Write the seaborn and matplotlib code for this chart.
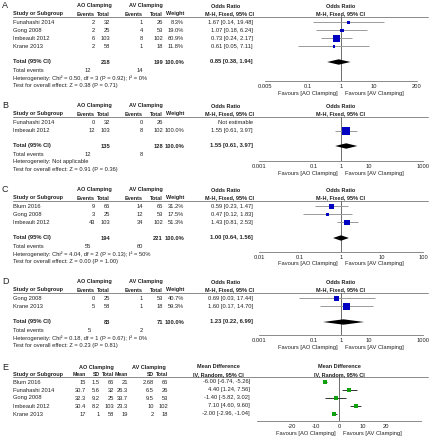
import numpy as np
import pandas as pd
import matplotlib
matplotlib.use("Agg")
import matplotlib.pyplot as plt
import seaborn as sns
from matplotlib.ticker import FixedLocator, FixedFormatter, NullLocator

sns.set_style("white")
plt.rcParams['font.family'] = ['Liberation Sans', 'DejaVu Sans']

# ---------------- data ----------------
# Panel A
studies_A = ["Funahashi 2014", "Gong 2008", "Imbeault 2012", "Krane 2013"]
ao_events_A = [2, 2, 6, 2]
ao_total_A = [32, 25, 103, 58]
av_events_A = [1, 4, 8, 1]
av_total_A = [26, 53, 102, 18]
weight_A = [8.3, 19.0, 60.9, 11.8]
or_A = [1.67, 1.07, 0.73, 0.61]
lo_A = [0.14, 0.18, 0.24, 0.05]
hi_A = [19.48, 6.24, 2.17, 7.11]
pooled_A = [0.85, 0.38, 1.94]
totals_A = [218, 199]
tot_events_A = [12, 14]
het_A = "Heterogeneity: Chi² = 0.50, df = 3 (P = 0.92); I² = 0%"
test_A = "Test for overall effect: Z = 0.38 (P = 0.71)"
ticks_A = [0.005, 0.1, 1, 10, 200]
ticklabels_A = ["0.005", "0.1", "1", "10", "200"]

# Panel B
studies_B = ["Funahashi 2014", "Imbeault 2012"]
ao_events_B = [0, 12]
ao_total_B = [32, 103]
av_events_B = [0, 8]
av_total_B = [26, 102]
weight_B = [np.nan, 100.0]
or_B = [np.nan, 1.55]
lo_B = [np.nan, 0.61]
hi_B = [np.nan, 3.97]
pooled_B = [1.55, 0.61, 3.97]
totals_B = [135, 128]
tot_events_B = [12, 8]
het_B = "Heterogeneity: Not applicable"
test_B = "Test for overall effect: Z = 0.91 (P = 0.36)"
ticks_B = [0.001, 0.1, 1, 10, 1000]
ticklabels_B = ["0.001", "0.1", "1", "10", "1000"]

# Panel C
studies_C = ["Blum 2016", "Gong 2008", "Imbeault 2012"]
ao_events_C = [9, 3, 43]
ao_total_C = [66, 25, 103]
av_events_C = [14, 12, 34]
av_total_C = [66, 53, 102]
weight_C = [31.2, 17.5, 51.3]
or_C = [0.59, 0.47, 1.43]
lo_C = [0.23, 0.12, 0.81]
hi_C = [1.47, 1.83, 2.53]
pooled_C = [1.00, 0.64, 1.56]
totals_C = [194, 221]
tot_events_C = [55, 60]
het_C = "Heterogeneity: Chi² = 4.04, df = 2 (P = 0.13); I² = 50%"
test_C = "Test for overall effect: Z = 0.00 (P = 1.00)"
ticks_C = [0.01, 0.1, 1, 10, 100]
ticklabels_C = ["0.01", "0.1", "1", "10", "100"]

# Panel D
studies_D = ["Gong 2008", "Krane 2013"]
ao_events_D = [0, 5]
ao_total_D = [25, 58]
av_events_D = [1, 1]
av_total_D = [53, 18]
weight_D = [40.7, 59.3]
or_D = [0.69, 1.60]
lo_D = [0.03, 0.17]
hi_D = [17.44, 14.70]
pooled_D = [1.23, 0.22, 6.99]
totals_D = [83, 71]
tot_events_D = [5, 2]
het_D = "Heterogeneity: Chi² = 0.18, df = 1 (P = 0.67); I² = 0%"
test_D = "Test for overall effect: Z = 0.23 (P = 0.81)"
ticks_D = [0.001, 0.1, 1, 10, 1000]
ticklabels_D = ["0.001", "0.1", "1", "10", "1000"]

# Panel E
studies_E = ["Blum 2016", "Funahashi 2014", "Gong 2008", "Imbeault 2012", "Krane 2013"]
ao_mean_E = [15, 30.7, 32.3, 30.4, 17]
ao_sd_E = [1.5, 5.6, 9.2, 8.2, 1]
ao_total_E = [66, 32, 25, 103, 58]
av_mean_E = [21, 26.3, 33.7, 23.3, 19]
av_sd_E = [2.68, 6.5, 9.5, 10, 2]
av_total_E = [66, 26, 53, 102, 18]
md_E = [-6.00, 4.40, -1.40, 7.10, -2.00]
lo_E = [-6.74, 1.24, -5.82, 4.60, -2.96]
hi_E = [-5.26, 7.56, 3.02, 9.60, -1.04]
ticks_E = [-20, -10, 0, 10, 20]
ticklabels_E = ["-20", "-10", "0", "10", "20"]

# ---------------- layout ----------------
W, H = 432, 437
fig = plt.figure(figsize=(W / 100, H / 100), dpi=100)
bg = fig.add_axes([0, 0, 1, 1])
bg.set_xlim(0, W)
bg.set_ylim(H, 0)
bg.axis('off')

FS = 4.15
HFS = 3.95
TXT = '#222222'
GRID = '#777777'
CI_COL = '#9a9a9a'
SQ_COL = '#0000c0'


def t(x, y, s, ha='left', bold=False, size=None, color=TXT):
    if size is None:
        size = HFS if bold else FS
    bg.text(x, y, s, ha=ha, va='center', fontsize=size,
            fontweight='bold' if bold else 'normal', color=color)


def make_axes(left, right, top, bottom):
    ax = fig.add_axes([left / W, 1 - bottom / H, (right - left) / W, (bottom - top) / H])
    ax.patch.set_alpha(0)
    return ax


def finish_axes(ax, top, bottom, xlim, ticks, labels, log=True):
    if log:
        ax.set_xscale('log')
    ax.set_xlim(*xlim)
    ax.set_ylim(bottom, top)
    for s in ['left', 'right', 'top']:
        ax.spines[s].set_visible(False)
    ax.spines['bottom'].set_color(GRID)
    ax.spines['bottom'].set_linewidth(0.6)
    ax.xaxis.set_major_locator(FixedLocator(ticks))
    ax.xaxis.set_major_formatter(FixedFormatter(labels))
    ax.xaxis.set_minor_locator(NullLocator())
    ax.set_yticks([])
    ax.set_xlabel('')
    ax.set_ylabel('')
    ax.grid(False)
    ax.tick_params(axis='x', direction='inout', length=3, width=0.6, color=GRID,
                   labelsize=FS, labelcolor=TXT, pad=0.8)


def or_panel(letter, y0, axis_y, L, R, studies, ev_ao, tot_ao, ev_av, tot_av,
             weight, est, lo, hi, pooled, totals, tot_events, het, test,
             ticks, ticklabels):
    cx = (L + R) / 2
    t(2, y0, letter, size=6.5)
    t(94, y0, "AO Clamping", ha='center', bold=True)
    t(146, y0, "AV Clamping", ha='center', bold=True)
    t(226, y0, "Odds Ratio", ha='center', bold=True)
    t(cx, y0, "Odds Ratio", ha='center', bold=True)
    h2 = y0 + 8
    t(13, h2, "Study or Subgroup", bold=True)
    t(95, h2, "Events", ha='right', bold=True)
    t(110, h2, "Total", ha='right', bold=True)
    t(143, h2, "Events", ha='right', bold=True)
    t(163, h2, "Total", ha='right', bold=True)
    t(184, h2, "Weight", ha='right', bold=True)
    t(254, h2, "M-H, Fixed, 95% CI", ha='right', bold=True)
    t(cx, h2, "M-H, Fixed, 95% CI", ha='center', bold=True)
    line_y = y0 + 10.5
    bg.plot([13, 428], [line_y, line_y], color=GRID, lw=0.6)

    rows = [y0 + 16.5 + 8 * i for i in range(len(studies))]
    for i, y in enumerate(rows):
        t(13, y, studies[i])
        t(95, y, str(ev_ao[i]), ha='right')
        t(110, y, str(tot_ao[i]), ha='right')
        t(143, y, str(ev_av[i]), ha='right')
        t(163, y, str(tot_av[i]), ha='right')
        if np.isnan(est[i]):
            t(253, y, "Not estimable", ha='right')
        else:
            t(184, y, f"{weight[i]:.1f}%", ha='right')
            t(253, y, f"{est[i]:.2f} [{lo[i]:.2f}, {hi[i]:.2f}]", ha='right')
    ty = rows[-1] + 15.5
    t(13, ty, "Total (95% CI)", bold=True, size=FS)
    t(110, ty, str(totals[0]), ha='right', bold=True, size=FS)
    t(163, ty, str(totals[1]), ha='right', bold=True, size=FS)
    t(184, ty, "100.0%", ha='right', bold=True, size=FS)
    t(253, ty, f"{pooled[0]:.2f} [{pooled[1]:.2f}, {pooled[2]:.2f}]", ha='right',
      bold=True, size=FS)
    t(13, ty + 8, "Total events")
    t(91, ty + 8, str(tot_events[0]), ha='right')
    t(143, ty + 8, str(tot_events[1]), ha='right')
    t(13, ty + 16, het)
    t(13, ty + 24, test)

    # forest plot
    ax = make_axes(L, R, line_y, axis_y)
    ax.set_xscale('log')
    df = pd.DataFrame({"est": est, "lo": lo, "hi": hi, "weight": weight, "row": rows}).dropna()
    ax.hlines(df["row"], df["lo"], df["hi"], color=CI_COL, lw=0.7, zorder=2)
    sns.scatterplot(data=df, x="est", y="row", size="weight", sizes=(0, 34),
                    size_norm=(0, 100), marker='s', color=SQ_COL, linewidth=0,
                    legend=False, ax=ax, zorder=3)
    ax.axvline(1, color='#555555', lw=0.6, zorder=1)
    p, plo, phi = pooled
    ax.fill([plo, p, phi, p], [ty, ty - 2.7, ty, ty + 2.7], color='black', lw=0, zorder=3)
    finish_axes(ax, line_y, axis_y, (ticks[0], ticks[-1]), ticks, ticklabels)
    t(cx - 3, axis_y + 12, "Favours [AO Clamping]", ha='right')
    t(cx + 4, axis_y + 12, "Favours [AV Clamping]", ha='left')


or_panel("A", 6, 81, 265, 417, studies_A, ao_events_A, ao_total_A, av_events_A, av_total_A,
         weight_A, or_A, lo_A, hi_A, pooled_A, totals_A, tot_events_A, het_A, test_A,
         ticks_A, ticklabels_A)
or_panel("B", 106, 161, 259, 423, studies_B, ao_events_B, ao_total_B, av_events_B, av_total_B,
         weight_B, or_B, lo_B, hi_B, pooled_B, totals_B, tot_events_B, het_B, test_B,
         ticks_B, ticklabels_B)
or_panel("C", 190, 252, 259, 423, studies_C, ao_events_C, ao_total_C, av_events_C, av_total_C,
         weight_C, or_C, lo_C, hi_C, pooled_C, totals_C, tot_events_C, het_C, test_C,
         ticks_C, ticklabels_C)
or_panel("D", 282, 335, 259, 423, studies_D, ao_events_D, ao_total_D, av_events_D, av_total_D,
         weight_D, or_D, lo_D, hi_D, pooled_D, totals_D, tot_events_D, het_D, test_D,
         ticks_D, ticklabels_D)

# ---------------- Panel E ----------------
y0 = 367
axis_y = 421
L, R = 257, 421
cx = (L + R) / 2
EH = 3.7
t(2, y0, "E", size=6.5)
t(96, y0, "AO Clamping", ha='center', bold=True)
t(149, y0, "AV Clamping", ha='center', bold=True)
t(218, y0, "Mean Difference", ha='center', bold=True)
t(cx, y0, "Mean Difference", ha='center', bold=True)
h2 = y0 + 7.5
t(13, h2, "Study or Subgroup", bold=True)
t(86, h2, "Mean", ha='right', bold=True, size=EH)
t(100, h2, "SD", ha='right', bold=True, size=EH)
t(114, h2, "Total", ha='right', bold=True, size=EH)
t(128, h2, "Mean", ha='right', bold=True, size=EH)
t(154, h2, "SD", ha='right', bold=True, size=EH)
t(168, h2, "Total", ha='right', bold=True, size=EH)
t(218, h2, "IV, Random, 95% CI", ha='center', bold=True)
t(cx, h2, "IV, Random, 95% CI", ha='center', bold=True)
line_y = y0 + 10
bg.plot([13, 428], [line_y, line_y], color=GRID, lw=0.6)
rows_E = [y0 + 15 + 8 * i for i in range(len(studies_E))]
for i, y in enumerate(rows_E):
    t(13, y, studies_E[i])
    t(86, y, f"{ao_mean_E[i]:g}", ha='right')
    t(100, y, f"{ao_sd_E[i]:g}", ha='right')
    t(114, y, str(ao_total_E[i]), ha='right')
    t(128, y, f"{av_mean_E[i]:g}", ha='right')
    t(154, y, f"{av_sd_E[i]:g}", ha='right')
    t(168, y, str(av_total_E[i]), ha='right')
    t(250, y, f"{md_E[i]:.2f} [{lo_E[i]:.2f}, {hi_E[i]:.2f}]", ha='right')

axE = make_axes(L, R, line_y, axis_y)
dfE = pd.DataFrame({"md": md_E, "lo": lo_E, "hi": hi_E, "row": rows_E})
axE.hlines(dfE["row"], dfE["lo"], dfE["hi"], color='#333333', lw=0.7, zorder=2)
sns.scatterplot(data=dfE, x="md", y="row", marker='s', s=6, color='#10a010',
                linewidth=0, legend=False, ax=axE, zorder=3)
axE.axvline(0, color='#555555', lw=0.6, zorder=1)
finish_axes(axE, line_y, axis_y, (-35, 35), ticks_E, ticklabels_E, log=False)
t(cx - 3, axis_y + 12, "Favours [AO Clamping]", ha='right')
t(cx + 4, axis_y + 12, "Favours [AV Clamping]", ha='left')

fig.savefig("out.png", dpi=100)
